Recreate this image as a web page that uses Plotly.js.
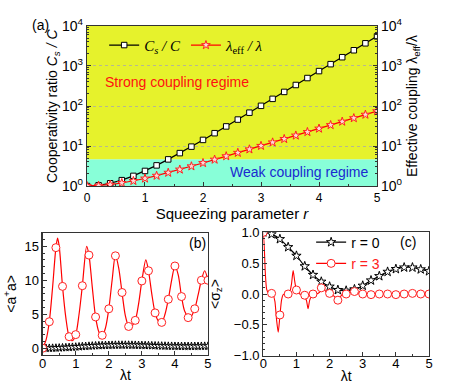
<!DOCTYPE html>
<html>
<head>
<meta charset="utf-8">
<script src="https://cdn.plot.ly/plotly-3.0.1.min.js"></script>
<style>html,body{margin:0;padding:0;background:#fff}#chart{width:463px;height:384px}</style>
</head>
<body>
<div id="chart"></div>
<script>
// (a) cooperativity ratio and effective coupling vs squeezing parameter
const squeezeR = [0, 0.2, 0.4, 0.6, 0.8, 1.0, 1.2, 1.4, 1.6, 1.8, 2.0, 2.2, 2.4, 2.6, 2.8, 3.0, 3.2, 3.4, 3.6, 3.8, 4.0, 4.2, 4.4, 4.6, 4.8, 5.0];
const cooperativity = [1, 1.04, 1.17, 1.40, 1.79, 2.38, 3.28, 4.63, 6.64, 9.65, 14.2, 20.9, 30.9, 45.8, 68.1, 101, 151, 225, 335, 500, 746, 1112, 1659, 2475, 3692, 5500];
const effCoupling = [1, 1.02, 1.08, 1.19, 1.34, 1.54, 1.81, 2.15, 2.58, 3.11, 3.76, 4.57, 5.56, 6.77, 8.25, 10.1, 12.3, 15.0, 18.3, 22.4, 27.3, 33.4, 40.7, 49.8, 60.8, 74.2];
const regimeBoundary = 4.7;

// (b) photon number vs lambda t
const timeB = [0, 0.2, 0.4, 0.6, 0.8, 1.0, 1.2, 1.4, 1.6, 1.8, 2.0, 2.2, 2.4, 2.6, 2.8, 3.0, 3.2, 3.4, 3.6, 3.8, 4.0, 4.2, 4.4, 4.6, 4.8, 5.0];
const photonR3 = [0, 3.9, 14.8, 9.1, 1.7, 2.0, 9.2, 13.7, 4.6, 1.9, 5.8, 13.6, 8.2, 3.2, 4.1, 9.9, 11.4, 5.2, 3.8, 7.2, 12.1, 7.6, 4.5, 5.8, 10.0, 10.0];
const timeLineB = [0, 0.1, 0.2, 0.3, 0.4, 0.45, 0.5, 0.6, 0.7, 0.8, 0.9, 1.0, 1.1, 1.2, 1.33, 1.4, 1.5, 1.6, 1.7, 1.8, 1.9, 2.0, 2.1, 2.2, 2.3, 2.4, 2.5, 2.6, 2.65, 2.8, 2.9, 3.0, 3.12, 3.2, 3.3, 3.4, 3.5, 3.6, 3.7, 3.8, 3.9, 4.0, 4.1, 4.2, 4.3, 4.45, 4.6, 4.7, 4.8, 4.9, 5.0];
const photonR3Line = [0, 1.2, 3.9, 9.0, 14.8, 16.2, 15.0, 9.1, 4.5, 1.7, 1.1, 2.0, 5.0, 9.2, 15.0, 13.7, 9.0, 4.6, 2.4, 1.8, 3.0, 5.8, 10.0, 13.7, 11.8, 8.2, 4.8, 3.2, 3.0, 4.1, 6.5, 9.9, 13.0, 11.4, 8.0, 5.2, 4.0, 3.8, 5.0, 7.2, 10.0, 12.1, 10.8, 7.6, 5.4, 4.4, 5.8, 7.8, 10.0, 11.4, 10.0];
const timeStarB = [0, 0.1, 0.2, 0.3, 0.4, 0.5, 0.6, 0.7, 0.8, 0.9, 1.0, 1.1, 1.2, 1.3, 1.4, 1.5, 1.6, 1.7, 1.8, 1.9, 2.0, 2.1, 2.2, 2.3, 2.4, 2.5, 2.6, 2.7, 2.8, 2.9, 3.0, 3.1, 3.2, 3.3, 3.4, 3.5, 3.6, 3.7, 3.8, 3.9, 4.0, 4.1, 4.2, 4.3, 4.4, 4.5, 4.6, 4.7, 4.8, 4.9, 5.0];
const photonR0 = [0, 0.003, 0.01, 0.02, 0.035, 0.055, 0.08, 0.105, 0.13, 0.16, 0.19, 0.22, 0.26, 0.29, 0.32, 0.345, 0.37, 0.39, 0.41, 0.43, 0.44, 0.455, 0.465, 0.47, 0.47, 0.47, 0.47, 0.46, 0.455, 0.44, 0.43, 0.415, 0.4, 0.385, 0.37, 0.355, 0.34, 0.33, 0.315, 0.305, 0.3, 0.29, 0.285, 0.285, 0.285, 0.285, 0.29, 0.295, 0.3, 0.31, 0.315];

// (c) atomic inversion vs lambda t
const timeC = [0, 0.25, 0.5, 0.75, 1.0, 1.25, 1.5, 1.75, 2.0, 2.25, 2.5, 2.75, 3.0, 3.25, 3.5, 3.75, 4.0, 4.25, 4.5, 4.75, 5.0];
const sigmaR0 = [1.0, 0.97, 0.89, 0.76, 0.62, 0.45, 0.31, 0.2, 0.12, 0.065, 0.054, 0.076, 0.135, 0.22, 0.29, 0.36, 0.405, 0.43, 0.43, 0.40, 0.37];
const sigmaR3 = [1.0, 0.01, -0.34, 0.0, 0.065, -0.02, 0.0, 0.1, 0.01, -0.1, 0.0, 0.04, 0.0, -0.01, 0.0, 0.0, -0.01, 0.0, 0.01, 0.0, 0.0];
const timeLineC = [0, 0.03, 0.06, 0.1, 0.15, 0.2, 0.25, 0.3, 0.35, 0.4, 0.45, 0.5, 0.55, 0.6, 0.7, 0.75, 0.8, 0.85, 0.9, 0.95, 1.0, 1.1, 1.2, 1.3, 1.35, 1.4, 1.5, 1.6, 1.7, 1.75, 1.8, 1.9, 2.0, 2.1, 2.2, 2.25, 2.3, 2.4, 2.5, 2.6, 2.75, 2.9, 3.0, 3.25, 3.5, 3.75, 4.0, 4.25, 4.5, 4.75, 5.0];
const sigmaR3Line = [1.0, 0.75, 0.35, 0.08, 0.02, 0.0, 0.01, -0.02, -0.12, -0.42, -0.62, -0.36, -0.1, -0.01, 0.0, 0.0, 0.03, 0.16, 0.38, 0.2, 0.065, 0.0, -0.02, -0.1, -0.24, -0.1, 0.0, 0.0, 0.03, 0.1, 0.11, 0.03, 0.01, -0.02, -0.07, -0.1, -0.06, 0.0, 0.0, 0.02, 0.04, 0.01, 0.0, -0.01, 0.0, 0.0, -0.01, 0.0, 0.01, 0.0, 0.0];

const sans = "Liberation Sans, Arial, sans-serif";
const serif = "Liberation Serif, Times New Roman, serif";
const logTicks = [1, 10, 100, 1000, 10000];
const logText = ["10<sup>0</sup>", "10<sup>1</sup>", "10<sup>2</sup>", "10<sup>3</sup>", "10<sup>4</sup>"];
const logMinor = [];
[1, 10, 100, 1000].forEach(d => { for (let k = 2; k <= 9; k++) logMinor.push(d * k); });

const openStar = (c, s) => ({ symbol: "star", size: s, color: "#fff", line: { color: c, width: 1 } });
const openCircle = (c, s) => ({ symbol: "circle", size: s, color: "#fff", line: { color: c, width: 1 } });

const traces = [
  {
    x: squeezeR, y: cooperativity, xaxis: "x", yaxis: "y",
    type: "scatter", mode: "lines+markers", name: "<i>C<sub>s</sub> / C</i>",
    line: { color: "#000", width: 1.2 },
    marker: { symbol: "square", size: 5.5, color: "#fff", line: { color: "#000", width: 1 } },
    legend: "legend"
  },
  {
    x: squeezeR, y: effCoupling, xaxis: "x", yaxis: "y2",
    type: "scatter", mode: "lines+markers", name: "<i>λ</i><sub>eff</sub><i> / λ</i>",
    line: { color: "#ff0000", width: 1.2 },
    marker: { symbol: "star", size: 6.5, color: "#ffd8d8", line: { color: "#ff2020", width: 1 } },
    legend: "legend"
  },
  {
    x: timeStarB, y: photonR0, xaxis: "x2", yaxis: "y3",
    type: "scatter", mode: "lines+markers", showlegend: false,
    line: { color: "#000", width: 1 }, marker: openStar("#000", 6)
  },
  {
    x: timeLineB, y: photonR3Line, xaxis: "x2", yaxis: "y3",
    type: "scatter", mode: "lines", showlegend: false,
    line: { color: "#ff0000", width: 1.2, shape: "spline", smoothing: 0.8 }
  },
  {
    x: timeB, y: photonR3, xaxis: "x2", yaxis: "y3",
    type: "scatter", mode: "markers", showlegend: false, marker: openCircle("#ff2020", 8)
  },
  {
    x: timeC, y: sigmaR0, xaxis: "x3", yaxis: "y4",
    type: "scatter", mode: "lines+markers", name: "r = 0",
    line: { color: "#000", width: 1.2, shape: "spline" }, marker: openStar("#000", 7),
    legend: "legend2"
  },
  {
    x: timeLineC, y: sigmaR3Line, xaxis: "x3", yaxis: "y4",
    type: "scatter", mode: "lines", showlegend: false,
    line: { color: "#ff0000", width: 1.1, shape: "spline", smoothing: 0.6 }
  },
  {
    // legend entry for r = 3 (line + circle)
    x: [null], y: [null], xaxis: "x3", yaxis: "y4",
    type: "scatter", mode: "lines+markers", name: "<span style='color:#ff2020'>r = 3</span>",
    line: { color: "#ff0000", width: 1.1 }, marker: openCircle("#ff2020", 8),
    legend: "legend2"
  },
  {
    x: timeC, y: sigmaR3, xaxis: "x3", yaxis: "y4",
    type: "scatter", mode: "markers", showlegend: false, marker: openCircle("#ff2020", 8)
  }
];

const axisBase = {
  showline: true, linecolor: "#333", linewidth: 1.2, mirror: true,
  ticks: "inside", ticklen: 4, tickcolor: "#333", zeroline: false, showgrid: false,
  tickfont: { family: sans, size: 13, color: "#000" }
};

const midA = 1 - 106 / 384;

const layout = {
  width: 463, height: 384,
  margin: { l: 0, r: 0, t: 0, b: 0 },
  paper_bgcolor: "#fff", plot_bgcolor: "#fff",
  font: { family: sans, color: "#000" },
  xaxis: Object.assign({}, axisBase, {
    domain: [0.1879, 0.8143], anchor: "y", range: [0, 5], dtick: 1,
    tickfont: { family: sans, size: 12, color: "#000" },
    minor: { ticks: "inside", ticklen: 2, dtick: 0.5, tickcolor: "#333" },
    title: { text: "Squeezing parameter <i>r</i>", font: { size: 15 }, standoff: 4 }
  }),
  yaxis: Object.assign({}, axisBase, {
    domain: [0.5156, 0.9323], anchor: "x", type: "log", range: [0, 4],
    tickvals: logTicks, ticktext: logText, showgrid: true,
    gridcolor: "#aaa", griddash: "dot", gridwidth: 0.8, mirror: false,
    tickfont: { family: sans, size: 14, color: "#000" },
    minor: { ticks: "inside", ticklen: 2, tickvals: logMinor, tickcolor: "#333" }
  }),
  yaxis2: Object.assign({}, axisBase, {
    overlaying: "y", side: "right", anchor: "x", type: "log", range: [0, 4],
    tickvals: logTicks, ticktext: logText, mirror: false,
    tickfont: { family: sans, size: 14, color: "#000" },
    minor: { ticks: "inside", ticklen: 2, tickvals: logMinor, tickcolor: "#333" }
  }),
  xaxis2: Object.assign({}, axisBase, {
    domain: [0.0922, 0.4492], anchor: "y3", range: [0, 5], dtick: 1, ticklabelstandoff: -4,
    minor: { ticks: "inside", ticklen: 2, dtick: 0.5, tickcolor: "#333" },
    title: { text: "λt", font: { size: 14 }, standoff: 0 }
  }),
  yaxis3: Object.assign({}, axisBase, {
    domain: [0.0755, 0.394], anchor: "x2", range: [-1, 17], tickvals: [0, 5, 10, 15],
    minor: { ticks: "inside", ticklen: 2, dtick: 1, tickcolor: "#333" },
    title: { text: "&lt;a<sup>+</sup>a&gt;", font: { size: 14 }, standoff: 4 }
  }),
  xaxis3: Object.assign({}, axisBase, {
    domain: [0.5687, 0.9266], anchor: "y4", range: [0, 5], dtick: 1, ticklabelstandoff: -4,
    minor: { ticks: "inside", ticklen: 2, dtick: 0.5, tickcolor: "#333" },
    title: { text: "λt", font: { size: 14 }, standoff: 0 }
  }),
  yaxis4: Object.assign({}, axisBase, {
    domain: [0.0737, 0.395], anchor: "x3", range: [-1, 1], dtick: 0.5, tickformat: ".1f",
    minor: { ticks: "inside", ticklen: 2, dtick: 0.1, tickcolor: "#333" },
    title: { text: "&lt;σ<sub>z</sub>&gt;", font: { size: 14 }, standoff: 10 }
  }),
  legend: {
    orientation: "h", x: 0.225, y: 0.925, xanchor: "left", yanchor: "top",
    bgcolor: "rgba(0,0,0,0)", font: { family: serif, size: 15, color: "#000" },
    itemwidth: 30, tracegroupgap: 0
  },
  legend2: {
    x: 0.672, y: 0.41, xanchor: "left", yanchor: "top",
    bgcolor: "rgba(0,0,0,0)", font: { family: sans, size: 14, color: "#000" },
    itemwidth: 30, tracegroupgap: 0
  },
  shapes: [
    { type: "rect", xref: "x", yref: "y", x0: 0, x1: 5, y0: 1, y1: regimeBoundary,
      fillcolor: "#88ffd8", line: { width: 0 }, layer: "below" },
    { type: "rect", xref: "x", yref: "y", x0: 0, x1: 5, y0: regimeBoundary, y1: 10000,
      fillcolor: "#e6f22c", line: { width: 0 }, layer: "below" }
  ],
  annotations: [
    { text: "(a)", xref: "paper", yref: "paper", x: 30 / 463, y: 1 - 15 / 384, showarrow: false, font: { size: 14 } },
    { text: "(b)", xref: "paper", yref: "paper", x: 197 / 463, y: 1 - 243 / 384, showarrow: false, font: { size: 14 } },
    { text: "(c)", xref: "paper", yref: "paper", x: 418 / 463, y: 1 - 242 / 384, showarrow: false, font: { size: 14 } },
    { text: "Cooperativity ratio <i>C<sub>s</sub> / C</i>", xref: "paper", yref: "paper",
      x: 53 / 463, y: midA, xanchor: "center", yanchor: "middle",
      textangle: -90, showarrow: false, font: { size: 14 } },
    { text: "Effective coupling λ<sub>eff</sub>/λ", xref: "paper", yref: "paper",
      x: 413 / 463, y: midA, xanchor: "center", yanchor: "middle",
      textangle: -90, showarrow: false, font: { size: 14 } },
    { text: "Strong coupling regime", xref: "x", yref: "y", x: 1.55, y: 2.6, showarrow: false,
      font: { size: 14, color: "#ff1010" } },
    { text: "Weak coupling regime", xref: "x", yref: "y", x: 3.65, y: 0.35, showarrow: false,
      font: { size: 14, color: "#1a2ad0" } }
  ]
};

Plotly.newPlot("chart", traces, layout, { staticPlot: true });
</script>
</body>
</html>
